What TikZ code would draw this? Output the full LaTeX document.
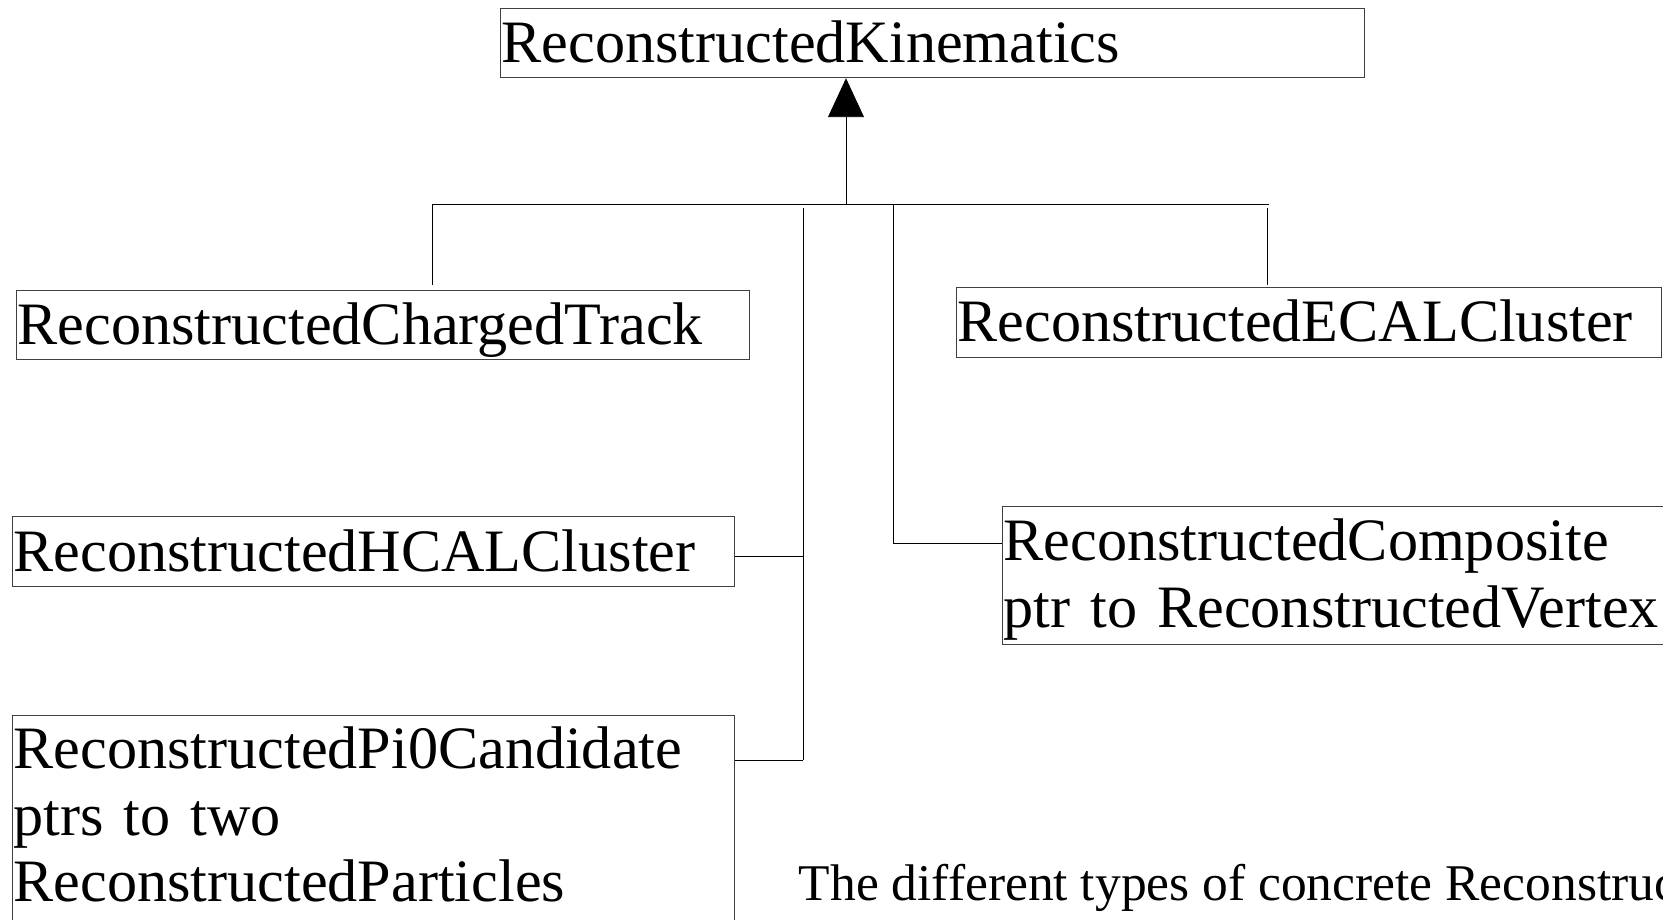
\documentclass[tikz,border=0pt]{standalone}
\usepackage{fontspec}
\setmainfont{Liberation Serif}
\usetikzlibrary{arrows.meta}
\newcommand\clsfont{\fontsize{60.2}{66.7}\selectfont}
\tikzset{
  classbox/.style={draw=black!75, line width=0.9pt, inner xsep=1pt, inner ysep=0pt,
    anchor=north west, align=left, font=\clsfont},
  conn/.style={draw=black, line width=0.9pt},
  captext/.style={anchor=base west, inner sep=0pt, font=\fontsize{51.5}{56}\selectfont}
}
\begin{document}
\begin{tikzpicture}[x=1pt,y=-1pt]
\useasboundingbox (0,0) rectangle (1663,920);
% class boxes
\node[classbox, text width=862pt, text height=53.4pt, text depth=15.6pt] (kin) at (500,8.3) {ReconstructedKinematics};
\node[classbox, text width=730.5pt, text height=54pt, text depth=15.3pt] (trk) at (16,290) {ReconstructedChargedTrack};
\node[classbox, text width=702.6pt, text height=53.4pt, text depth=16pt] (ecal) at (956,287.3) {ReconstructedECALCluster};
\node[classbox, text width=719.6pt, text height=54.7pt, text depth=15pt] (hcal) at (12,516) {ReconstructedHCALCluster};
\node[classbox, text width=700pt, text height=54pt, text depth=84pt] (comp) at (1002,506) {ReconstructedComposite\\ptr to ReconstructedVertex};
\node[classbox, text width=719.6pt, text height=53pt, text depth=260pt] (pi0) at (12,715) {ReconstructedPi0Candidate\\ptrs to two\\ReconstructedParticles};
% caption
\node[captext] (cap) at (798.6,900) {The different types of concrete Reconstruc};
% connector points
\coordinate (busM) at (846,204);
\coordinate (busL) at (432.7,204);
\coordinate (busR) at (1269,204);
\coordinate (trkTop) at (432.7,285);
\coordinate (ecalTop) at (1267.5,285);
\coordinate (ecalStart) at (1267.5,208);
\coordinate (leftTop) at (803,208);
\coordinate (leftBot) at (803,760);
\coordinate (hcalJ) at (803,556);
\coordinate (compStart) at (893.3,204);
\coordinate (compJ) at (893.3,543.3);
% generalisation arrow
\draw[conn, -{Triangle[width=36pt,length=39pt]}] (busM) -- (kin.south -| busM);
\draw[conn] (busL) -- (busR);
\draw[conn] (busL) -- (trkTop);
\draw[conn] (ecalStart) -- (ecalTop);
\draw[conn] (leftTop) -- (leftBot);
\draw[conn] (hcal.east |- hcalJ) -- (hcalJ);
\draw[conn] (pi0.east |- leftBot) -- (leftBot);
\draw[conn] (compStart) -- (compJ) -- (comp.west |- compJ);
\end{tikzpicture}
\end{document}
